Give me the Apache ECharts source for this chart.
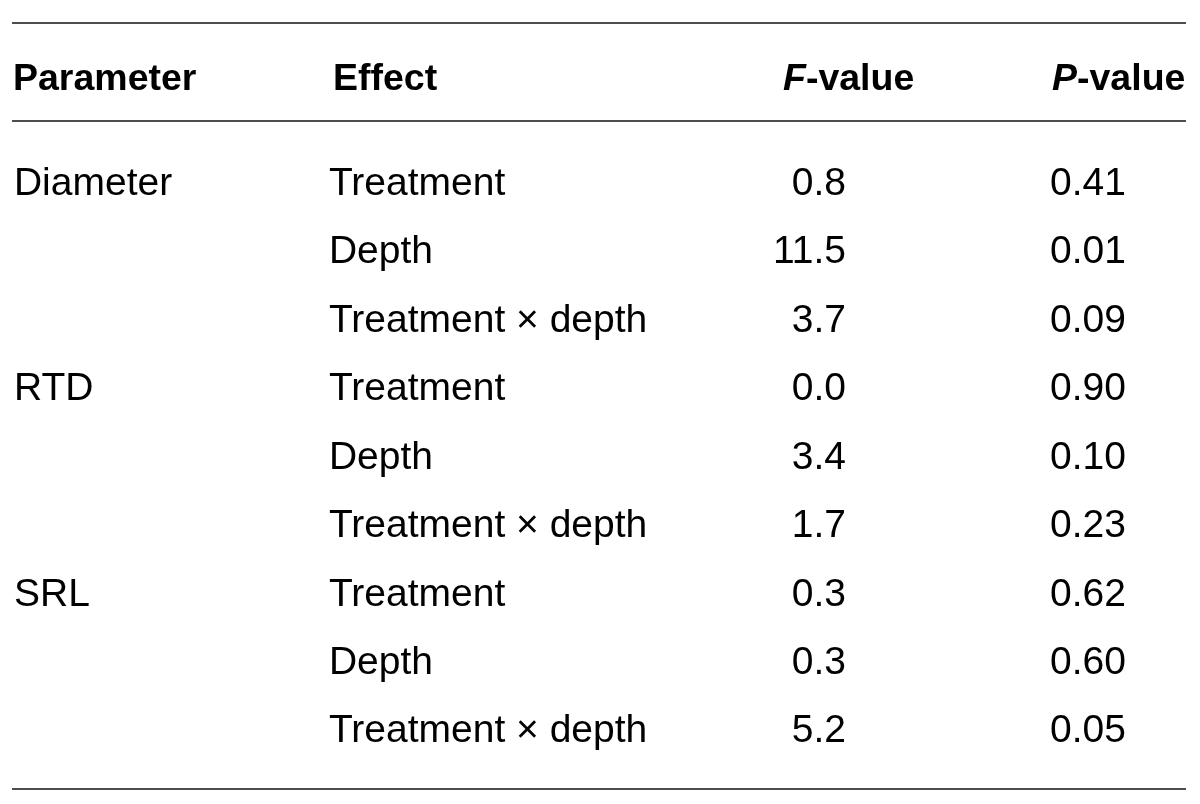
<!DOCTYPE html>
<html>
<head>
<meta charset="utf-8">
<script src="https://cdn.jsdelivr.net/npm/echarts@6/dist/echarts.min.js"></script>
<style>
  html, body { margin: 0; padding: 0; background: #fff; }
  #table { width: 1200px; height: 804px; }
</style>
</head>
<body>
<div id="table"></div>
<script>
// table content
const headers = ['Parameter', 'Effect', 'F-value', 'P-value'];
const parameters = ['Diameter', '', '', 'RTD', '', '', 'SRL', '', ''];
const effects = ['Treatment', 'Depth', 'Treatment \u00d7 depth',
  'Treatment', 'Depth', 'Treatment \u00d7 depth',
  'Treatment', 'Depth', 'Treatment \u00d7 depth'];
const fValues = [0.8, 11.5, 3.7, 0.0, 3.4, 1.7, 0.3, 0.3, 5.2];
const pValues = [0.41, 0.01, 0.09, 0.90, 0.10, 0.23, 0.62, 0.60, 0.05];

// layout: column anchors in px (x axis runs 0..1200 over the full width)
const colX = [14, 329, 846, 1050];
const colAlign = ['left', 'left', 'right', 'left'];
const headerX = [13, 333, 783, 1052];

const FONT = "'Liberation Sans', Arial, Helvetica, sans-serif";
const TEXT = '#000';
const RULE = '#4d4d4d';

const rows = effects.map((_, i) => String(i));

const columns = [
  parameters,
  effects,
  fValues.map(v => v.toFixed(1)),
  pValues.map(v => v.toFixed(2))
];

const chart = echarts.init(document.getElementById('table'), null, { renderer: 'canvas' });

const series = columns.map((col, c) => ({
  type: 'scatter',
  symbolSize: 0.1,
  itemStyle: { color: '#fff', opacity: 1 },
  silent: true,
  data: col.map((txt, i) => ({ value: [colX[c], rows[i]], name: txt })),
  label: {
    show: true,
    position: [0, 0],
    align: colAlign[c],
    verticalAlign: 'middle',
    formatter: p => p.name,
    fontFamily: FONT,
    fontSize: 39,
    color: TEXT,
    opacity: 1,
    textBorderWidth: 0
  }
}));

function rule(y) {
  return {
    type: 'line',
    shape: { x1: 12, y1: y, x2: 1186, y2: y },
    style: { stroke: RULE, lineWidth: 2 }
  };
}

const headerStyle = { fontFamily: FONT, fontSize: 37.5, fontWeight: 'bold', fill: TEXT };

chart.setOption({
  animation: false,
  backgroundColor: '#fff',
  grid: { left: 0, right: 0, top: 150, bottom: 38 },
  xAxis: { type: 'value', min: 0, max: 1200, show: false },
  yAxis: { type: 'category', data: rows, inverse: true, show: false },
  series: series,
  graphic: [
    rule(23),
    rule(121),
    rule(789),
    ...headers.map((h, c) => {
      const italic = h.indexOf('-') === 1;
      return {
        type: 'text',
        x: headerX[c],
        y: 80,
        style: Object.assign({}, headerStyle, {
          text: italic ? '{i|' + h[0] + '}{b|' + h.slice(1) + '}' : h,
          verticalAlign: 'middle',
          align: 'left',
          rich: {
            i: { fontFamily: FONT, fontSize: 37.5, fontWeight: 'bold', fontStyle: 'italic', fill: TEXT },
            b: { fontFamily: FONT, fontSize: 37.5, fontWeight: 'bold', fill: TEXT }
          }
        })
      };
    })
  ]
});
</script>
</body>
</html>
